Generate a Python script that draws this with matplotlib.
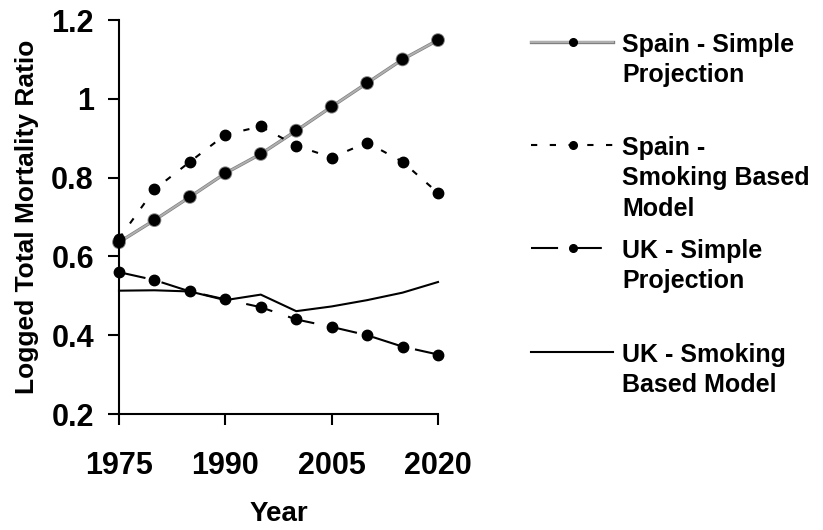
import matplotlib
matplotlib.use("Agg")
import matplotlib.pyplot as plt
from matplotlib.lines import Line2D
import matplotlib.patheffects as pe

years = [1975, 1980, 1985, 1990, 1995, 2000, 2005, 2010, 2015, 2020]
spain_simple = [0.636, 0.692, 0.751, 0.811, 0.860, 0.919, 0.980, 1.040, 1.100, 1.149]
spain_smoking = [0.645, 0.770, 0.840, 0.909, 0.930, 0.881, 0.851, 0.889, 0.840, 0.761]
uk_simple = [0.560, 0.540, 0.511, 0.491, 0.471, 0.440, 0.421, 0.400, 0.371, 0.351]
uk_smoking = [0.513, 0.514, 0.511, 0.489, 0.503, 0.461, 0.473, 0.489, 0.508, 0.535]
x_ticks = [1975, 1990, 2005, 2020]
y_ticks = [0.2, 0.4, 0.6, 0.8, 1.0, 1.2]
y_tick_labels = ["0.2", "0.4", "0.6", "0.8", "1", "1.2"]
labels = ["Spain - Simple\nProjection", "Spain -\nSmoking Based\nModel",
          "UK - Simple\nProjection", "UK - Smoking\nBased Model"]

plt.rcParams['font.family'] = ['Liberation Sans', 'DejaVu Sans']
plt.rcParams['font.weight'] = 'bold'

W, H = 823, 530
fig = plt.figure(figsize=(W / 100, H / 100), dpi=100)
ax = fig.add_axes([119 / W, 1 - 414 / H, (438 - 119) / W, (414 - 20) / H])

grey_fx = [pe.Stroke(linewidth=2.4, foreground='#808080'), pe.Normal()]
styles = [
    dict(color='#b0b0b0', lw=1.4, ls='-', marker='o', path_effects=grey_fx),
    dict(color='black', lw=1.5, ls=(0, (3, 6)), marker='o'),
    dict(color='black', lw=1.5, ls=(0, (13, 8)), marker='o'),
    dict(color='black', lw=1.5, ls='-', marker=None),
]
series = [spain_simple, spain_smoking, uk_simple, uk_smoking]

for vals, st in zip(series, styles):
    st = dict(st)
    marker = st.pop('marker')
    ax.plot(years, vals, marker=marker, markersize=7.5, markerfacecolor='black',
            markeredgecolor='black', clip_on=False, **st)

ax.set_xlim(1975, 2020)
ax.set_ylim(0.2, 1.2)
ax.set_xticks(x_ticks)
ax.set_xticklabels([str(v) for v in x_ticks])
ax.set_yticks(y_ticks)
ax.set_yticklabels(y_tick_labels)
for s in ['top', 'right']:
    ax.spines[s].set_visible(False)
for s in ['left', 'bottom']:
    ax.spines[s].set_linewidth(1.5)
ax.tick_params(axis='both', direction='out', length=8, width=1.5, labelsize=22)
ax.tick_params(axis='x', pad=19)
ax.tick_params(axis='y', pad=10)
ax.set_xlabel('Year', fontsize=20, fontweight='bold', labelpad=14)
ax.set_ylabel('Logged Total Mortality Ratio', fontsize=19, fontweight='bold', labelpad=9)

# legend (manual, handle aligned with first text line)
leg_y = [42, 145, 248, 352]
for lab, st, ly in zip(labels, styles, leg_y):
    st = dict(st)
    marker = st.pop('marker')
    yf = 1 - ly / H
    ln = Line2D([531 / W, 613 / W], [yf, yf], transform=fig.transFigure,
                marker=None, **st)
    fig.add_artist(ln)
    if marker:
        mk = Line2D([573 / W], [yf], transform=fig.transFigure, marker='o',
                    markersize=5.5, color='black', ls='none')
        fig.add_artist(mk)
    fig.text(622 / W, 1 - (ly - 9) / H, lab, fontsize=18, fontweight='bold',
             ha='left', va='top', linespacing=1.34)

fig.savefig('out.png', dpi=100)
